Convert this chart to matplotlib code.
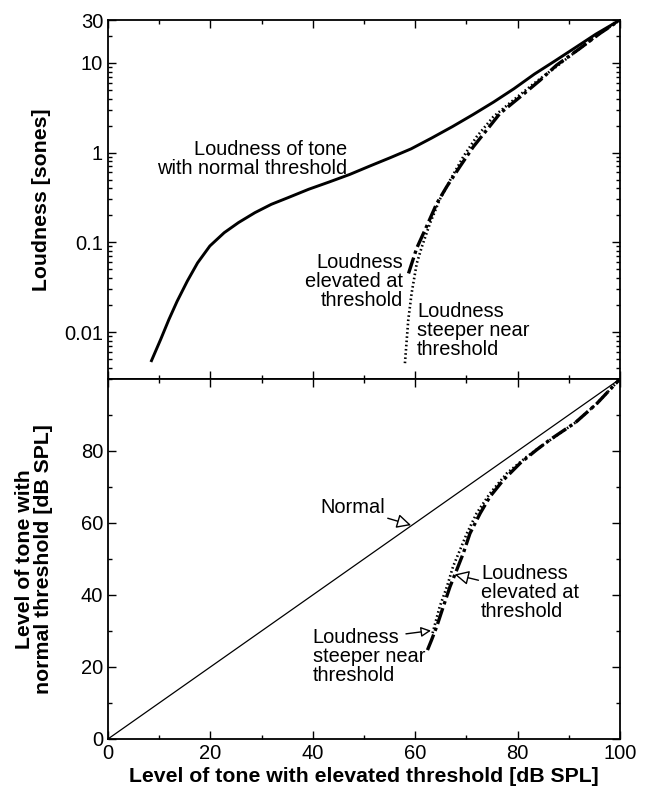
import numpy as np
import matplotlib.pyplot as plt
from matplotlib.ticker import MultipleLocator, LogLocator, NullFormatter

plt.rcParams['font.family'] = ['Liberation Sans', 'DejaVu Sans']

# top panel: loudness (sones) vs level (dB SPL)
normal_x = [8.5, 10.3, 11.9, 13.5, 15.5, 17.5, 19.9, 22.7, 25.5, 28.7, 31.9, 35.2, 39.2, 43.2,
            47.2, 51.2, 55.2, 59.2, 63.2, 67.3, 71.3, 75.3, 79.3, 83.3, 87.3, 91.3, 95.3, 100]
normal_y = [0.0048, 0.0083, 0.0138, 0.022, 0.037, 0.059, 0.091, 0.128, 0.166, 0.214, 0.265, 0.315,
            0.39, 0.47, 0.57, 0.71, 0.88, 1.1, 1.45, 1.95, 2.65, 3.65, 5.15, 7.5, 10.5, 14.8, 20.9, 30]

elev_x = [58.7, 60.3, 62.2, 64.2, 66.2, 68.75, 71.35, 73.96, 76.56, 80.5, 84.4, 87.6, 92.2, 96.1, 100]
elev_y = [0.045, 0.086, 0.149, 0.27, 0.42, 0.70, 1.16, 1.78, 2.73, 4.17, 6.4, 9.4, 14.5, 21.3, 30]

steep_x = [58.0, 58.3, 58.65, 59.3, 60.3, 61.3, 62.9, 64.8, 66.8, 69.4, 72.0, 75.25, 79.2, 83.7,
           87.6, 92.2, 96.1, 100]
steep_y = [0.0045, 0.0075, 0.0136, 0.027, 0.058, 0.089, 0.163, 0.30, 0.49, 0.90, 1.50, 2.5, 3.85,
           6.2, 9.1, 14.5, 21.3, 30]

# bottom panel: equal-loudness level for normal ear vs elevated-threshold ear
line_x = [0, 100]
line_y = [0, 100]

elev2_x = [62.4, 63.2, 64.2, 65.5, 66.8, 68.1, 69.4, 70.7, 72.7, 74.6, 77.2, 80.5, 83.7, 86.3,
           91.3, 95.5, 100]
elev2_y = [24.7, 27.5, 31.2, 36.8, 42.3, 46.9, 51.6, 57.1, 62.7, 67.3, 71.9, 76.6, 80.3, 83.1,
           87.9, 93.2, 100]

steep2_x = [63.4, 64.8, 66.2, 67.4, 68.75, 70.1, 72.0, 74.6, 77.9, 81.8, 85.0, 91.3, 95.5, 100]
steep2_y = [29.4, 36.8, 42.3, 47.9, 52.5, 57.1, 62.7, 68.2, 73.8, 78.4, 81.7, 87.9, 93.2, 100]

fig = plt.figure(figsize=(6.45, 7.94), dpi=100)
ax1 = fig.add_axes([0.1674, 0.5227, 0.7938, 0.4521])
ax2 = fig.add_axes([0.1674, 0.0693, 0.7938, 0.4534])

fs = 14.4
tfs = 14.5
lfs = 15.3
dashdot = (0, (5, 1.2, 1, 1.2))
dots = (0, (0.6, 1.0))

# ---- top
ax1.plot(normal_x, normal_y, color='black', lw=2.1)
ax1.plot(elev_x, elev_y, color='black', lw=2.4, linestyle=dashdot)
ax1.plot(steep_x, steep_y, color='black', lw=1.9, linestyle=dots)
ax1.set_yscale('log')
ax1.set_xlim(0, 100)
ax1.set_ylim(0.003, 30)
ax1.set_yticks([0.01, 0.1, 1, 10, 30])
ax1.set_yticklabels(['0.01', '0.1', '1', '10', '30'])
ax1.yaxis.set_minor_locator(LogLocator(base=10, subs=np.arange(2, 10)))
ax1.yaxis.set_minor_formatter(NullFormatter())
ax1.xaxis.set_major_locator(MultipleLocator(20))
ax1.xaxis.set_minor_locator(MultipleLocator(10))
ax1.tick_params(labelbottom=False)
ax1.set_ylabel('Loudness [sones]', fontsize=lfs, fontweight='bold')
ax1.yaxis.set_label_coords(-0.111, 0.5)

ax1.text(46.8, 0.84, 'Loudness of tone\nwith normal threshold', ha='right', va='center',
         fontsize=fs, multialignment='right', linespacing=1.0)
ax1.text(57.6, 0.037, 'Loudness\nelevated at\nthreshold', ha='right', va='center',
         fontsize=fs, multialignment='right', linespacing=1.0)
ax1.text(60.4, 0.0104, 'Loudness\nsteeper near\nthreshold', ha='left', va='center',
         fontsize=fs, multialignment='left', linespacing=1.0)

# ---- bottom
ax2.plot(line_x, line_y, color='black', lw=0.9)
ax2.plot(elev2_x, elev2_y, color='black', lw=2.4, linestyle=dashdot)
ax2.plot(steep2_x, steep2_y, color='black', lw=1.9, linestyle=dots)
ax2.set_xlim(0, 100)
ax2.set_ylim(0, 100)
ax2.set_yticks([0, 20, 40, 60, 80])
ax2.yaxis.set_minor_locator(MultipleLocator(10))
ax2.xaxis.set_major_locator(MultipleLocator(20))
ax2.xaxis.set_minor_locator(MultipleLocator(10))
ax2.set_xlabel('Level of tone with elevated threshold [dB SPL]', fontsize=lfs, fontweight='bold',
               labelpad=3)
ax2.set_ylabel('Level of tone with\nnormal threshold [dB SPL]', fontsize=lfs, fontweight='bold',
               linespacing=1.0)
ax2.yaxis.set_label_coords(-0.107, 0.5)

arr = dict(arrowstyle='-|>,head_length=0.6,head_width=0.3', fc='white', ec='black', lw=1.0,
           shrinkA=0, shrinkB=0)
ax2.annotate('Normal', xy=(59.2, 59.4), xytext=(54.1, 64.2), ha='right', va='center',
             fontsize=fs, arrowprops=arr)
ax2.annotate('Loudness\nelevated at\nthreshold', xy=(67.7, 45.7), xytext=(72.9, 40.6),
             ha='left', va='center', fontsize=fs, linespacing=1.0, arrowprops=arr)
ax2.text(40.0, 22.9, 'Loudness\nsteeper near\nthreshold', ha='left', va='center',
         fontsize=fs, linespacing=1.0)
ax2.annotate('', xy=(63.1, 30.1), xytext=(58.2, 29.2), arrowprops=arr)

for ax in (ax1, ax2):
    ax.tick_params(which='both', direction='in', top=True, right=True, labelsize=tfs, width=1.0)
    ax.tick_params(which='major', length=6)
    ax.tick_params(which='minor', length=3)
    for s in ax.spines.values():
        s.set_linewidth(1.3)

fig.savefig('out.png', dpi=100)
